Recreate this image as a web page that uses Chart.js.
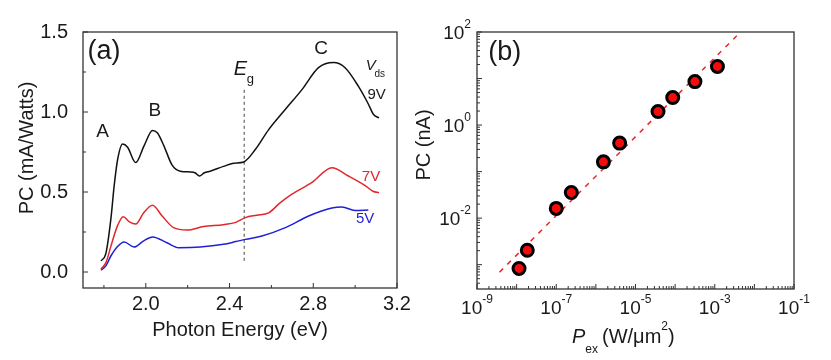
<!DOCTYPE html>
<html>
<head>
<meta charset="utf-8">
<script src="https://cdn.jsdelivr.net/npm/chart.js@4.4.0/dist/chart.umd.min.js"></script>
<style>
  body { margin: 0; background: #fff; width: 831px; height: 360px; overflow: hidden; position: relative; }
  .wrap { position: absolute; top: 0; height: 360px; }
  #wrapA { left: 0; width: 420px; }
  #wrapB { left: 400px; width: 431px; }
</style>
</head>
<body>
<div class="wrap" id="wrapA"><canvas id="chartA"></canvas></div>
<div class="wrap" id="wrapB"><canvas id="chartB"></canvas></div>
<script>
// ---- panel (a): photocurrent spectra ----
const energy9 = [1.786, 1.81, 1.833, 1.849, 1.865, 1.889, 1.913, 1.952, 1.992, 2.032, 2.055, 2.086, 2.125, 2.165, 2.213, 2.235, 2.256, 2.28, 2.308, 2.371, 2.419, 2.468, 2.524, 2.587, 2.667, 2.746, 2.825, 2.897, 2.952, 3.016, 3.063, 3.087, 3.114];
const pc9 = [0.069, 0.12, 0.33, 0.54, 0.70, 0.80, 0.78, 0.684, 0.79, 0.885, 0.87, 0.79, 0.67, 0.63, 0.625, 0.62, 0.60, 0.62, 0.63, 0.66, 0.68, 0.688, 0.767, 0.89, 1.017, 1.14, 1.277, 1.309, 1.277, 1.16, 1.05, 0.986, 0.963];

const energy7 = [1.786, 1.81, 1.833, 1.865, 1.892, 1.92, 1.952, 1.99, 2.032, 2.078, 2.133, 2.197, 2.276, 2.371, 2.43, 2.476, 2.53, 2.587, 2.64, 2.698, 2.794, 2.889, 2.968, 3.048, 3.085, 3.114];
const pc7 = [0.017, 0.06, 0.16, 0.29, 0.346, 0.315, 0.30, 0.37, 0.417, 0.35, 0.277, 0.262, 0.284, 0.296, 0.31, 0.34, 0.355, 0.37, 0.43, 0.486, 0.56, 0.652, 0.60, 0.54, 0.505, 0.496];

const energy5 = [1.786, 1.81, 1.833, 1.865, 1.897, 1.944, 1.99, 2.032, 2.101, 2.157, 2.26, 2.371, 2.43, 2.476, 2.555, 2.667, 2.778, 2.889, 2.937, 3.0, 3.063];
const pc5 = [0.012, 0.04, 0.10, 0.16, 0.188, 0.156, 0.195, 0.219, 0.183, 0.152, 0.156, 0.173, 0.19, 0.204, 0.225, 0.277, 0.35, 0.40, 0.406, 0.385, 0.387];

const egEnergy = [2.47, 2.47];
const egPC = [0.07, 1.14];

const energyTicks = [2.0, 2.4, 2.8, 3.2];
const energyMinor = [1.8, 2.2, 2.6, 3.0];
const pcTicks = [0, 0.5, 1.0, 1.5];
const pcMinor = [0.25, 0.75, 1.25];

// ---- panel (b): power dependence ----
const powerDensity = [1.15e-8, 1.86e-8, 1.0e-7, 2.4e-7, 1.55e-6, 3.98e-6, 3.7e-5, 8.7e-5, 3.16e-4, 1.17e-3];
const photocurrent = [8.3e-4, 2.04e-3, 1.62e-2, 3.55e-2, 0.162, 0.41, 1.95, 3.9, 8.6, 18.2];
const fitPower = [3.7e-9, 3.6e-3];
const fitPC = [6.9e-4, 83];

const powerExpLabels = [-9, -7, -5, -3, -1];
const pcExpLabels = [2, 0, -2];

const FONT = '"Liberation Sans", Arial, sans-serif';
const zip = (xs, ys) => xs.map((x, i) => ({ x: x, y: ys[i] }));

function line(ctx, x1, y1, x2, y2) {
  ctx.beginPath(); ctx.moveTo(x1, y1); ctx.lineTo(x2, y2); ctx.stroke();
}
function text(ctx, s, x, y, size, opt) {
  opt = opt || {};
  ctx.font = (opt.style || '') + ' ' + size + 'px ' + FONT;
  ctx.fillStyle = opt.color || '#1a1a1a';
  ctx.textAlign = opt.align || 'center';
  ctx.textBaseline = 'middle';
  ctx.fillText(s, x, y);
}

// frame with inward ticks
const frame = {
  id: 'frame',
  afterDatasetsDraw(chart, args, opts) {
    const { ctx, chartArea: a, scales } = chart;
    ctx.save();
    ctx.strokeStyle = '#333';
    ctx.lineWidth = 1.3;
    ctx.strokeRect(a.left, a.top, a.right - a.left, a.bottom - a.top);
    ctx.lineWidth = 1;
    opts.xMajor.forEach(v => { const p = scales.x.getPixelForValue(v); line(ctx, p, a.bottom, p, a.bottom - 5); });
    opts.xMinor.forEach(v => { const p = scales.x.getPixelForValue(v); line(ctx, p, a.bottom, p, a.bottom - 3); });
    opts.yMajor.forEach(v => { const p = scales.y.getPixelForValue(v); line(ctx, a.left, p, a.left + 5, p); });
    opts.yMinor.forEach(v => { const p = scales.y.getPixelForValue(v); line(ctx, a.left, p, a.left + 3, p); });
    ctx.restore();
  }
};

const notesA = {
  id: 'notesA',
  afterDraw(chart) {
    const { ctx, scales: { x, y } } = chart;
    const X = v => x.getPixelForValue(v), Y = v => y.getPixelForValue(v);
    ctx.save();
    text(ctx, '(a)', X(1.80), Y(1.38), 27);
    text(ctx, 'A', X(1.794), Y(0.875), 19);
    text(ctx, 'B', X(2.043), Y(1.006), 19);
    text(ctx, 'C', X(2.837), Y(1.396), 19);
    text(ctx, 'E', X(2.452), Y(1.267), 20, { style: 'italic' });
    text(ctx, 'g', X(2.50), Y(1.205), 13);
    text(ctx, 'V', X(3.075), Y(1.288), 15, { style: 'italic' });
    text(ctx, 'ds', X(3.118), Y(1.238), 10);
    text(ctx, '9V', X(3.103), Y(1.106), 15);
    text(ctx, '7V', X(3.076), Y(0.592), 15, { color: '#e0252b' });
    text(ctx, '5V', X(3.048), Y(0.33), 15, { color: '#1f1fd6' });
    text(ctx, 'Photon Energy (eV)', 240, 330, 20);
    ctx.translate(27, 148);
    ctx.rotate(-Math.PI / 2);
    text(ctx, 'PC (mA/Watts)', 0, 0, 20);
    ctx.restore();
  }
};

new Chart(document.getElementById('chartA'), {
  type: 'line',
  data: {
    datasets: [
      { data: zip(energy9, pc9), borderColor: '#111', borderWidth: 1.5 },
      { data: zip(energy7, pc7), borderColor: '#e3262b', borderWidth: 1.5 },
      { data: zip(energy5, pc5), borderColor: '#2020d8', borderWidth: 1.5 },
      { data: zip(egEnergy, egPC), borderColor: '#444', borderWidth: 1, borderDash: [3, 3], cubicInterpolationMode: 'default', tension: 0 }
    ]
  },
  options: {
    responsive: true,
    maintainAspectRatio: false,
    animation: false,
    events: [],
    layout: { padding: { top: 32, right: 23, left: 0, bottom: 0 } },
    elements: { point: { radius: 0 }, line: { cubicInterpolationMode: 'monotone', fill: false } },
    plugins: {
      legend: { display: false },
      tooltip: { enabled: false },
      frame: { xMajor: energyTicks, xMinor: energyMinor, yMajor: pcTicks, yMinor: pcMinor }
    },
    scales: {
      x: {
        type: 'linear', min: 1.7, max: 3.2,
        afterBuildTicks: s => { s.ticks = energyTicks.map(v => ({ value: v })); },
        afterFit: s => { s.height = 72; },
        ticks: { autoSkip: false, maxRotation: 0, padding: -4, color: '#1a1a1a', font: { family: FONT, size: 20 }, callback: v => v.toFixed(1) },
        grid: { display: false }, border: { display: false }
      },
      y: {
        type: 'linear', min: -0.1, max: 1.5,
        afterBuildTicks: s => { s.ticks = pcTicks.map(v => ({ value: v })); },
        afterFit: s => { s.width = 83; },
        ticks: { autoSkip: false, padding: 7, color: '#1a1a1a', font: { family: FONT, size: 20 }, callback: v => v.toFixed(1) },
        grid: { display: false }, border: { display: false }
      }
    }
  },
  plugins: [frame, notesA]
});

// minor ticks for log axes
const decadeMinor = (lo, hi) => {
  const out = [];
  for (let d = lo; d < hi; d++) for (let m = 2; m <= 9; m++) out.push(m * Math.pow(10, d));
  return out;
};
const decades = (lo, hi) => { const out = []; for (let d = lo; d <= hi; d++) out.push(Math.pow(10, d)); return out; };

const notesB = {
  id: 'notesB',
  afterDraw(chart) {
    const { ctx, chartArea: a, scales: { x, y } } = chart;
    ctx.save();
    powerExpLabels.forEach(e => {
      const px = x.getPixelForValue(Math.pow(10, e));
      const ex = String(e);
      ctx.font = '19px ' + FONT;
      const w1 = ctx.measureText('10').width;
      ctx.font = '12px ' + FONT;
      const w2 = ctx.measureText(ex).width;
      const left = px - (w1 + w2) / 2;
      text(ctx, '10', left, 309, 19, { align: 'left' });
      text(ctx, ex, left + w1, 300, 12, { align: 'left' });
    });
    pcExpLabels.forEach(e => {
      const py = y.getPixelForValue(Math.pow(10, e));
      const ex = String(e);
      ctx.font = '12px ' + FONT;
      const w2 = ctx.measureText(ex).width;
      const right = a.left - 6;
      text(ctx, ex, right, py - 7, 12, { align: 'right' });
      text(ctx, '10', right - w2, py + 2, 19, { align: 'right' });
    });
    text(ctx, '(b)', x.getPixelForValue(Math.pow(10, -8.3)), y.getPixelForValue(Math.pow(10, 1.55)), 27);
    // x title: P_ex (W/um^2)
    let cx = 172;
    text(ctx, 'P', cx, 337, 20, { style: 'italic', align: 'left' });
    ctx.font = 'italic 20px ' + FONT; cx += ctx.measureText('P').width;
    text(ctx, 'ex', cx, 350, 12, { align: 'left' });
    ctx.font = '12px ' + FONT; cx += ctx.measureText('ex').width + 4;
    text(ctx, '(W/\u03bcm', cx, 337, 20, { align: 'left' });
    ctx.font = '20px ' + FONT; cx += ctx.measureText('(W/\u03bcm').width;
    text(ctx, '2', cx, 327, 12, { align: 'left' });
    ctx.font = '12px ' + FONT; cx += ctx.measureText('2').width;
    text(ctx, ')', cx, 337, 20, { align: 'left' });
    ctx.translate(24, 145);
    ctx.rotate(-Math.PI / 2);
    text(ctx, 'PC (nA)', 0, 0, 20);
    ctx.restore();
  }
};

new Chart(document.getElementById('chartB'), {
  type: 'scatter',
  data: {
    datasets: [
      { data: zip(powerDensity, photocurrent), backgroundColor: '#f20d0d', borderColor: '#000', borderWidth: 3, pointRadius: 6 },
      { data: zip(fitPower, fitPC), showLine: true, borderColor: '#e8262b', borderWidth: 1.5, borderDash: [5, 6], pointRadius: 0 }
    ]
  },
  options: {
    responsive: true,
    maintainAspectRatio: false,
    animation: false,
    events: [],
    layout: { padding: { top: 32, right: 37, left: 0, bottom: 0 } },
    plugins: {
      legend: { display: false },
      tooltip: { enabled: false },
      frame: { xMajor: decades(-9, -1), xMinor: decadeMinor(-9, -1), yMajor: decades(-3, 2), yMinor: decadeMinor(-4, 2).filter(v => v > 3.2e-4) }
    },
    scales: {
      x: {
        type: 'logarithmic', min: 1e-9, max: 1e-1,
        afterFit: s => { s.height = 71; },
        ticks: { display: false }, grid: { display: false }, border: { display: false }
      },
      y: {
        type: 'logarithmic', min: Math.pow(10, -3.5), max: 100,
        afterFit: s => { s.width = 77; },
        ticks: { display: false }, grid: { display: false }, border: { display: false }
      }
    }
  },
  plugins: [frame, notesB]
});
</script>
</body>
</html>
